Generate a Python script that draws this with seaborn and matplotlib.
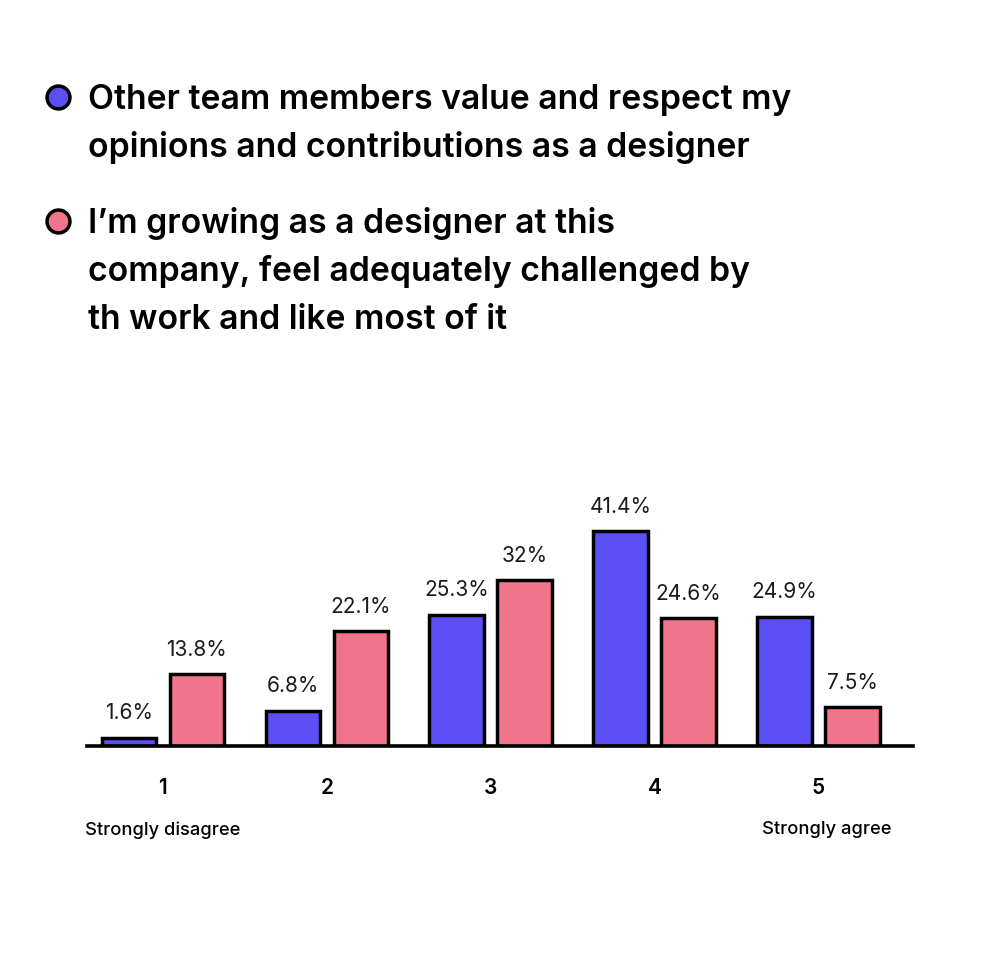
import matplotlib
matplotlib.use("Agg")
import matplotlib.pyplot as plt
from matplotlib.lines import Line2D
import pandas as pd
import seaborn as sns

# survey answers, share of respondents in %
scale = ["1", "2", "3", "4", "5"]
respect = [1.6, 6.8, 25.3, 41.4, 24.9]
growing = [13.8, 22.1, 32.0, 24.6, 7.5]
series_names = [
    "Other team members value and respect my\nopinions and contributions as a designer",
    "I\u2019m growing as a designer at this\ncompany, feel adequately challenged by\nth work and like most of it",
]
end_labels = ["Strongly disagree", "Strongly agree"]

BLUE = "#5B4FF4"
PINK = "#F0758A"

sns.set_theme(style="white")
plt.rcParams["font.family"] = ["Inter", "DejaVu Sans"]
plt.rcParams["text.color"] = "black"
plt.rcParams["xtick.color"] = "black"

df = pd.DataFrame({
    "answer": scale * 2,
    "share": respect + growing,
    "series": ["respect"] * len(scale) + ["growing"] * len(scale),
})

fig = plt.figure(figsize=(10, 9.79), dpi=100)
ax = fig.add_axes([0.087, 0.237, 0.826, 0.273])

sns.barplot(data=df, x="answer", y="share", hue="series",
            palette=[BLUE, PINK], saturation=1, width=0.83, gap=0.2,
            edgecolor="black", linewidth=2.5, legend=False, ax=ax)

for cont in ax.containers:
    ax.bar_label(cont, labels=[f"{v:g}%" for v in cont.datavalues],
                 padding=11, fontsize=15, color="#1a1a1a")

ax.set_ylim(0, 51.5)
ax.set_xlim(-0.463, 4.577)
ax.set_xlabel("")
ax.set_ylabel("")
ax.set_yticks([])
for s in ["top", "right", "left"]:
    ax.spines[s].set_visible(False)
ax.spines["bottom"].set_linewidth(2.6)
ax.spines["bottom"].set_color("black")
ax.tick_params(axis="x", length=0, pad=22, labelsize=15)
for t in ax.get_xticklabels():
    t.set_fontweight("semibold")

trans = ax.get_xaxis_transform()
ax.text(0, -0.31, end_labels[0], transform=trans, ha="center", va="center",
        fontsize=13.2, fontweight="medium")
ax.text(4.05, -0.31, end_labels[1], transform=trans, ha="center", va="center",
        fontsize=13.2, fontweight="medium")

# legend block at the top: marker + multi-line label, one text per line
H = 979.0
step = 48
for name, color, base_px in zip(series_names, (BLUE, PINK), (109, 233)):
    for i, line in enumerate(name.split("\n")):
        fig.text(0.088, 1 - (base_px + i * step) / H, line, ha="left",
                 va="baseline", fontsize=24.3, fontweight="semibold")
    fig.add_artist(Line2D([0.0575], [1 - (base_px - 11.5) / H],
                          transform=fig.transFigure, marker="o", ls="",
                          ms=16.5, mfc=color, mec="black", mew=2.5))

fig.savefig("out.png", dpi=100, facecolor="white")
